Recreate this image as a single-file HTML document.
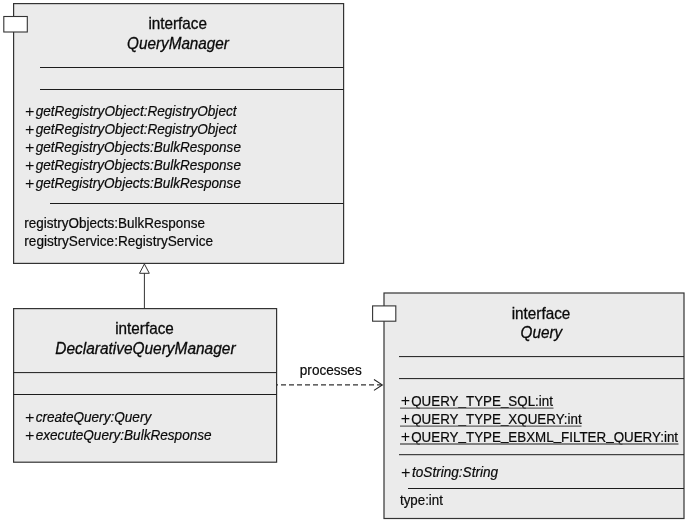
<!DOCTYPE html>
<html>
<head>
<meta charset="utf-8">
<title>UML class diagram</title>
<style>
html,body{margin:0;padding:0;background:#fff;}
body{width:688px;height:521px;overflow:hidden;}
svg{display:block;will-change:transform;}
text{font-family:"Liberation Sans",Arial,Helvetica,sans-serif;fill:#0a0a0a;stroke:#0a0a0a;white-space:pre;}
.t{font-size:13.8px;stroke-width:0.2px;}
.h{font-size:16px;stroke-width:0.3px;}
.i{font-style:italic;}
.p{font-size:16.5px;stroke:none;font-style:normal;}
</style>
</head>
<body>
<svg width="688" height="521" viewBox="0 0 688 521">
<rect x="13.6" y="3.6" width="330.0" height="259.8" fill="#ebebeb" stroke="#333" stroke-width="1.2"/>
<rect x="3.8" y="16.5" width="23.5" height="15.5" fill="#fff" stroke="#333" stroke-width="1.1"/>
<text class="h" transform="translate(177.7 29.3) scale(0.955 1)" text-anchor="middle">interface</text>
<text class="h i" transform="translate(178 49.1) scale(0.955 1)" text-anchor="middle">QueryManager</text>
<line x1="40" y1="67.5" x2="343.5" y2="67.5" stroke="#1c1c1c" stroke-width="1"/>
<line x1="40" y1="89.5" x2="343.5" y2="89.5" stroke="#1c1c1c" stroke-width="1"/>
<text class="t i" transform="translate(0 116) scale(0.985 1)"><tspan class="p" x="25.48" dy="0.9">+</tspan><tspan x="36.24" dy="-0.9">getRegistryObject:RegistryObject</tspan></text>
<text class="t i" transform="translate(0 134) scale(0.985 1)"><tspan class="p" x="25.48" dy="0.9">+</tspan><tspan x="36.24" dy="-0.9">getRegistryObject:RegistryObject</tspan></text>
<text class="t i" transform="translate(0 152) scale(0.981 1)"><tspan class="p" x="25.59" dy="0.9">+</tspan><tspan x="36.39" dy="-0.9">getRegistryObjects:BulkResponse</tspan></text>
<text class="t i" transform="translate(0 170) scale(0.981 1)"><tspan class="p" x="25.59" dy="0.9">+</tspan><tspan x="36.39" dy="-0.9">getRegistryObjects:BulkResponse</tspan></text>
<text class="t i" transform="translate(0 188) scale(0.981 1)"><tspan class="p" x="25.59" dy="0.9">+</tspan><tspan x="36.39" dy="-0.9">getRegistryObjects:BulkResponse</tspan></text>
<line x1="50" y1="203.5" x2="343.5" y2="203.5" stroke="#1c1c1c" stroke-width="1"/>
<text class="t" transform="translate(24.3 227.7) scale(0.979 1)">registryObjects:BulkResponse</text>
<text class="t" transform="translate(24.3 245.6) scale(0.985 1)">registryService:RegistryService</text>
<rect x="13.6" y="308.6" width="263.0" height="153.6" fill="#ebebeb" stroke="#333" stroke-width="1.2"/>
<text class="h" transform="translate(144.5 333.9) scale(0.955 1)" text-anchor="middle">interface</text>
<text class="h i" transform="translate(145.4 353.7) scale(0.966 1)" text-anchor="middle">DeclarativeQueryManager</text>
<line x1="13.5" y1="372.6" x2="276.5" y2="372.6" stroke="#1c1c1c" stroke-width="1"/>
<line x1="13.5" y1="394.5" x2="276.5" y2="394.5" stroke="#1c1c1c" stroke-width="1"/>
<text class="t i" transform="translate(0 421.8) scale(0.985 1)"><tspan class="p" x="25.48" dy="0.9">+</tspan><tspan x="36.24" dy="-0.9">createQuery:Query</tspan></text>
<text class="t i" transform="translate(0 439.8) scale(0.985 1)"><tspan class="p" x="25.48" dy="0.9">+</tspan><tspan x="36.24" dy="-0.9">executeQuery:BulkResponse</tspan></text>
<rect x="384" y="293" width="300" height="225.5" fill="#ebebeb" stroke="#333" stroke-width="1.2"/>
<rect x="372.6" y="305.9" width="23.2" height="15.3" fill="#fff" stroke="#333" stroke-width="1.1"/>
<text class="h" transform="translate(541 318.5) scale(0.955 1)" text-anchor="middle">interface</text>
<text class="h i" transform="translate(541.4 338.3) scale(0.955 1)" text-anchor="middle">Query</text>
<line x1="399" y1="356.6" x2="684" y2="356.6" stroke="#1c1c1c" stroke-width="1"/>
<line x1="399" y1="378.6" x2="684" y2="378.6" stroke="#1c1c1c" stroke-width="1"/>
<text class="t" transform="translate(0 405.7) scale(0.97 1)"><tspan class="p" x="413.2" dy="0.3">+</tspan><tspan x="423.92" dy="-0.3">QUERY<tspan dy="-1.1">_</tspan><tspan dy="1.1">TYPE</tspan><tspan dy="-1.1">_</tspan><tspan dy="1.1">SQL:int</tspan></tspan></text>
<line x1="400" y1="408.2" x2="553.5" y2="408.2" stroke="#606060" stroke-width="1.3"/>
<text class="t" transform="translate(0 423.6) scale(0.97 1)"><tspan class="p" x="413.2" dy="0.3">+</tspan><tspan x="423.92" dy="-0.3">QUERY<tspan dy="-1.1">_</tspan><tspan dy="1.1">TYPE</tspan><tspan dy="-1.1">_</tspan><tspan dy="1.1">XQUERY:int</tspan></tspan></text>
<line x1="400" y1="426.1" x2="581.5" y2="426.1" stroke="#606060" stroke-width="1.3"/>
<text class="t" transform="translate(0 441.5) scale(0.97 1)"><tspan class="p" x="413.2" dy="0.3">+</tspan><tspan x="423.92" dy="-0.3">QUERY<tspan dy="-1.1">_</tspan><tspan dy="1.1">TYPE</tspan><tspan dy="-1.1">_</tspan><tspan dy="1.1">EBXML</tspan><tspan dy="-1.1">_</tspan><tspan dy="1.1">FILTER</tspan><tspan dy="-1.1">_</tspan><tspan dy="1.1">QUERY:int</tspan></tspan></text>
<line x1="400" y1="444.0" x2="678.5" y2="444.0" stroke="#606060" stroke-width="1.3"/>
<line x1="399" y1="454.7" x2="684" y2="454.7" stroke="#1c1c1c" stroke-width="1"/>
<text class="t i" transform="translate(0 476.7) scale(0.985 1)"><tspan class="p" x="407.21" dy="0.9">+</tspan><tspan x="418.27" dy="-0.9">toString:String</tspan></text>
<line x1="408" y1="488.5" x2="684" y2="488.5" stroke="#1c1c1c" stroke-width="1"/>
<text class="t" transform="translate(400 505.3) scale(0.965 1)">type:int</text>
<text class="t" transform="translate(299.8 374.9) scale(0.985 1)">processes</text>
<line x1="144.4" y1="273" x2="144.4" y2="308" stroke="#333" stroke-width="1"/>
<polygon points="144.4,264 139.5,273.3 149.3,273.3" fill="#fff" stroke="#333" stroke-width="1"/>
<line x1="277" y1="384.9" x2="381.5" y2="384.9" stroke="#333" stroke-width="1.3" stroke-dasharray="5 3" stroke-dashoffset="4"/>
<polyline points="374,379.5 382.3,384.9 374,390.4" fill="none" stroke="#222" stroke-width="1.1"/>
</svg>
</body>
</html>
